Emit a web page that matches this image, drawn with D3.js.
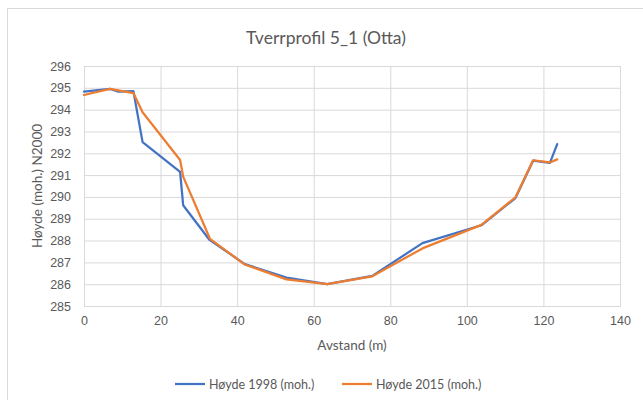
<!DOCTYPE html>
<html>
<head>
<meta charset="utf-8">
<script src="https://cdn.jsdelivr.net/npm/d3@7"></script>
<style>
  html, body { margin: 0; padding: 0; background: #fff; }
  svg { display: block; font-family: Lato, "Open Sans", sans-serif; }
</style>
</head>
<body>
<svg id="chart" width="643" height="400"></svg>
<script>
// Cross-section profile 5_1 of the Otta river: distance (m) vs elevation (m a.s.l.)
const dist1998 = [0, 6.8, 9.0, 12.9, 15.3, 25.1, 25.9, 32.7, 42.0, 52.9, 63.5, 75.3, 88.4, 103.8, 112.7, 117.3, 121.7, 123.6];
const elev1998 = [294.83, 294.95, 294.82, 294.85, 292.51, 291.15, 289.62, 288.05, 286.92, 286.30, 286.0, 286.38, 287.88, 288.70, 289.95, 291.66, 291.56, 292.42];
const dist2015 = [0, 6.8, 12.9, 15.3, 25.1, 25.9, 32.9, 42.0, 52.9, 63.5, 75.3, 88.4, 103.8, 112.7, 117.3, 121.7, 123.6];
const elev2015 = [294.67, 294.95, 294.76, 293.88, 291.69, 290.93, 288.08, 286.90, 286.22, 286.0, 286.36, 287.64, 288.72, 289.98, 291.68, 291.58, 291.72];
const seriesNames = ["Høyde 1998 (moh.)", "Høyde 2015 (moh.)"];
const seriesColors = ["#4472C4", "#ED7D31"];
const xTicks = [0, 20, 40, 60, 80, 100, 120, 140];
const yTicks = [285, 286, 287, 288, 289, 290, 291, 292, 293, 294, 295, 296];
const titleText = "Tverrprofil 5_1 (Otta)";
const xLabel = "Avstand (m)";
const yLabel = "Høyde (moh.) N2000";

const svg = d3.select("#chart");
const textColor = "#595959";
const gridColor = "#d9d9d9";

// chart frame
svg.append("rect")
  .attr("x", 7.5).attr("y", 8.5)
  .attr("width", 660).attr("height", 420)
  .attr("fill", "#fff").attr("stroke", "#d9d9d9").attr("stroke-width", 1);

const plot = { left: 84, right: 620, top: 66, bottom: 306 };
const x = d3.scaleLinear().domain([0, 140]).range([plot.left, plot.right]);
const y = d3.scaleLinear().domain([285, 296]).range([plot.bottom, plot.top]);

// horizontal gridlines + y tick labels
const yAxis = d3.axisLeft(y).tickValues(yTicks).tickSize(-(plot.right - plot.left)).tickPadding(13).tickFormat(d3.format("d"));
const gy = svg.append("g").attr("transform", `translate(${plot.left},0)`).call(yAxis);
gy.select(".domain").remove();
gy.selectAll(".tick line").attr("stroke", gridColor).attr("stroke-width", 1);
gy.selectAll(".tick text").attr("fill", textColor).attr("font-size", 12.5);

// vertical gridlines + x tick labels
const xAxis = d3.axisBottom(x).tickValues(xTicks).tickSize(-(plot.bottom - plot.top)).tickPadding(10).tickFormat(d3.format("d"));
const gx = svg.append("g").attr("transform", `translate(0,${plot.bottom})`).call(xAxis);
gx.select(".domain").attr("stroke", gridColor);
gx.selectAll(".tick line").attr("stroke", gridColor).attr("stroke-width", 1);
gx.selectAll(".tick text").attr("fill", textColor).attr("font-size", 12.5);

// series lines
const line = d3.line().x(d => x(d[0])).y(d => y(d[1]));
const series = [
  d3.zip(dist1998, elev1998),
  d3.zip(dist2015, elev2015)
];
series.forEach((pts, i) => {
  svg.append("path")
    .datum(pts)
    .attr("d", line)
    .attr("fill", "none")
    .attr("stroke", seriesColors[i])
    .attr("stroke-width", 2.25)
    .attr("stroke-linejoin", "round")
    .attr("stroke-linecap", "round");
});

// title
svg.append("text")
  .attr("x", 326).attr("y", 44)
  .attr("text-anchor", "middle")
  .attr("fill", textColor).attr("font-size", 17.5)
  .text(titleText);

// axis titles
svg.append("text")
  .attr("x", 352).attr("y", 350)
  .attr("text-anchor", "middle")
  .attr("fill", textColor).attr("font-size", 13.5)
  .text(xLabel);

svg.append("text")
  .attr("transform", `translate(42,186) rotate(-90)`)
  .attr("text-anchor", "middle")
  .attr("fill", textColor).attr("font-size", 13.5)
  .text(yLabel);

// legend
const legendItems = [{ x: 175 }, { x: 342 }];
legendItems.forEach((item, i) => {
  const g = svg.append("g").attr("transform", `translate(${item.x},384)`);
  g.append("line")
    .attr("x1", 0).attr("x2", 30).attr("y1", 0).attr("y2", 0)
    .attr("stroke", seriesColors[i]).attr("stroke-width", 2.25);
  g.append("text")
    .attr("x", 34).attr("y", 4.5)
    .attr("fill", textColor).attr("font-size", 12.5)
    .text(seriesNames[i]);
});
</script>
</body>
</html>
